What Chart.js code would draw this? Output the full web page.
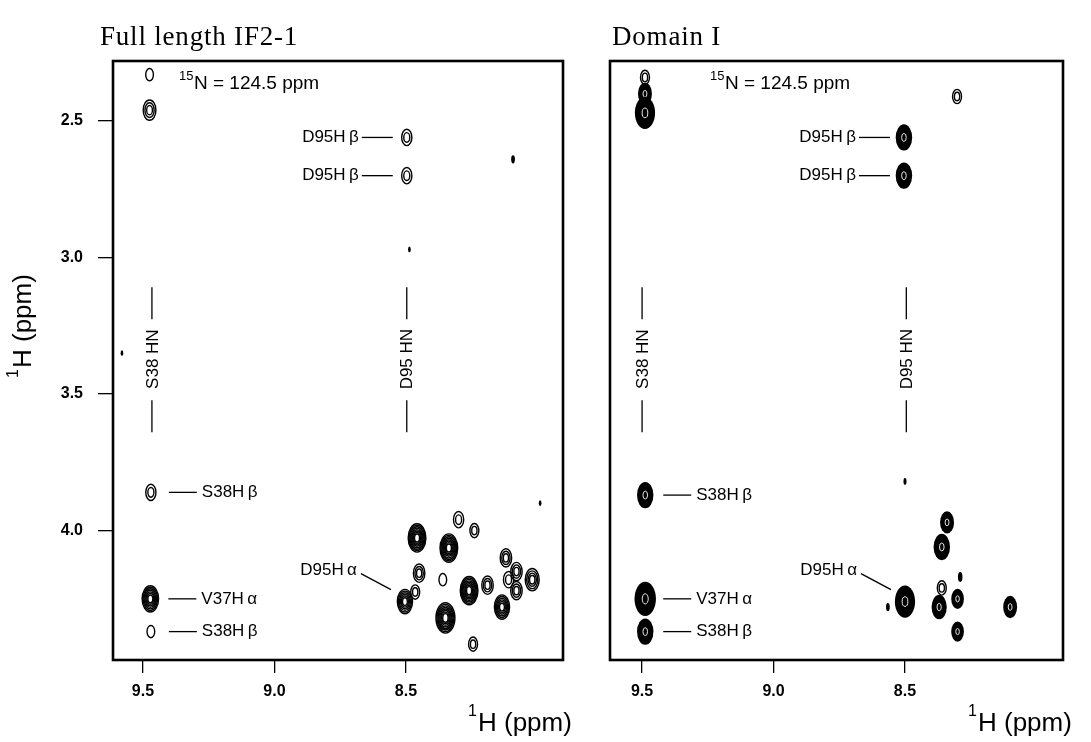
<!DOCTYPE html>
<html>
<head>
<meta charset="utf-8">
<script src="https://cdn.jsdelivr.net/npm/chart.js@4.4.1/dist/chart.umd.min.js"></script>
<style>
  html, body { margin: 0; padding: 0; background: #fff; }
  #wrap { position: relative; width: 1091px; height: 742px; }
  #wrap canvas { position: absolute; top: 0; }
</style>
</head>
<body>
<div id="wrap">
  <canvas id="fullChart" width="590" height="742" style="left:0;width:590px;height:742px"></canvas>
  <canvas id="domChart" width="501" height="742" style="left:590px;width:501px;height:742px"></canvas>
</div>
<script>
// Full length IF2-1 strip at 15N = 124.5 ppm: amide 1H (x), 1H (y), contour levels
const fullX = [9.475, 9.475, 8.497, 8.497, 8.093, 8.487, 9.58, 9.47, 9.472, 9.47, 7.99,
               8.458, 8.337, 8.30, 8.24, 8.45, 8.504, 8.465, 8.36, 8.35, 8.26, 8.19,
               8.135, 8.12, 8.08, 8.11, 8.02, 8.08, 8.245];
const fullY = [2.33, 2.46, 2.56, 2.70, 2.64, 2.97, 3.35, 3.86, 4.25, 4.37, 3.90,
               4.027, 4.064, 3.96, 4.00, 4.156, 4.26, 4.225, 4.18, 4.32, 4.22, 4.20,
               4.28, 4.10, 4.15, 4.18, 4.18, 4.22, 4.416];
const fullLevel = [1, 3, 2, 2, 0.6, 0.3, 0.3, 2, 4.5, 1, 0.3,
                   5, 5, 2, 1.5, 2.5, 4, 1.5, 1, 5.5, 5, 2.5,
                   4, 2.5, 2.5, 2, 3.5, 2.5, 1.5];

// Domain I strip
const domX = [9.489, 9.489, 9.489, 8.302, 8.504, 8.504, 8.50, 9.488, 9.488, 9.488,
              8.34, 8.36, 8.29, 8.36, 8.30, 8.37, 8.30, 8.10, 8.50, 8.565];
const domY = [2.34, 2.40, 2.47, 2.41, 2.56, 2.70, 3.82, 3.87, 4.25, 4.37,
              3.97, 4.06, 4.17, 4.21, 4.25, 4.28, 4.37, 4.28, 4.26, 4.28];
const domLevel = [1.5, 3.5, 6, 1.5, 4.5, 4.5, 0.4, 4.5, 6.5, 4.5,
                  3.5, 4.5, 0.8, 1.5, 3, 4, 3, 3.5, 6, 0.6];

// Assignments
const fullAssign = ['D95Hβ', 'D95Hβ', 'S38Hβ', 'V37Hα', 'S38Hβ', 'D95Hα'];
const fullAssignX = [8.497, 8.497, 9.47, 9.472, 9.47, 8.504];
const fullAssignY = [2.56, 2.70, 3.86, 4.25, 4.37, 4.26];
const domAssign = ['D95Hβ', 'D95Hβ', 'S38Hβ', 'V37Hα', 'S38Hβ', 'D95Hα'];
const domAssignX = [8.504, 8.504, 9.488, 9.488, 9.488, 8.50];
const domAssignY = [2.56, 2.70, 3.87, 4.25, 4.37, 4.26];

// Amide strips
const stripNames = ['S38 HN', 'D95 HN'];
const fullStripX = [9.466, 8.497];
const domStripX = [9.50, 8.495];

const xTicks = [9.5, 9.0, 8.5];
const yTicks = [2.5, 3.0, 3.5, 4.0];

const SANS = '"Liberation Sans", Arial, sans-serif';
const SERIF = '"Liberation Serif", "Times New Roman", serif';

function toPoints(xs, ys, lv) {
  return xs.map((x, i) => ({ x: x, y: ys[i], level: lv[i] }));
}

function drawPeak(ctx, x, y, lvl, filled) {
  ctx.strokeStyle = '#000';
  ctx.fillStyle = '#000';
  if (lvl < 1) {
    const r = 0.8 + 1.8 * lvl;
    ctx.beginPath();
    ctx.ellipse(x, y, r, r * 2.2, 0, 0, Math.PI * 2);
    ctx.fill();
    return;
  }
  const rx = 2.6 + 1.25 * lvl;
  const ry = rx * 1.6;
  if (filled && lvl >= 3) {
    ctx.beginPath();
    ctx.ellipse(x, y, rx, ry, 0, 0, Math.PI * 2);
    ctx.fill();
    ctx.strokeStyle = '#fff';
    ctx.lineWidth = 0.9;
    ctx.beginPath();
    ctx.ellipse(x, y, rx * 0.28, ry * 0.3, 0, 0, Math.PI * 2);
    ctx.stroke();
    return;
  }
  // stacked contour rings, denser for stronger peaks
  const n = Math.max(1, Math.round(lvl * (lvl >= 4 ? 1.5 : 1)));
  ctx.lineWidth = 1.4;
  for (let k = 0; k < n; k++) {
    const s = 1 - (k / n) * 0.82;
    ctx.beginPath();
    ctx.ellipse(x, y, rx * s, ry * s, 0, 0, Math.PI * 2);
    ctx.stroke();
  }
}

// draws the peaks, box, assignments and panel text
function stripPlugin(cfg) {
  return {
    id: 'strip',
    afterDatasetsDraw(chart) {
      const ctx = chart.ctx;
      const a = chart.chartArea;
      const xs = chart.scales.x, ys = chart.scales.y;
      const ds = chart.data.datasets[0];
      const meta = chart.getDatasetMeta(0);

      ctx.save();
      ctx.beginPath();
      ctx.rect(a.left, a.top, a.right - a.left, a.bottom - a.top);
      ctx.clip();
      meta.data.forEach((pt, i) => drawPeak(ctx, pt.x, pt.y, ds.data[i].level, cfg.filled));
      ctx.restore();

      ctx.save();
      // frame
      ctx.strokeStyle = '#000';
      ctx.lineWidth = 2.6;
      ctx.strokeRect(a.left, a.top, a.right - a.left, a.bottom - a.top);

      // assignment labels
      ctx.lineWidth = 1.3;
      ctx.font = '17px ' + SANS;
      ctx.textBaseline = 'middle';
      cfg.assign.forEach((name, i) => {
        const px = xs.getPixelForValue(cfg.assignX[i]);
        const py = ys.getPixelForValue(cfg.assignY[i]);
        const text = name.replace('H', 'H\u2009');
        ctx.beginPath();
        if (name === 'D95Hα') {
          ctx.moveTo(px - 44, py - 28);
          ctx.lineTo(px - 14, py - 12);
          ctx.stroke();
          ctx.textAlign = 'right';
          ctx.fillText(text, px - 48, py - 31);
        } else if (name.startsWith('D95')) {
          ctx.moveTo(px - 45, py);
          ctx.lineTo(px - 14, py);
          ctx.stroke();
          ctx.textAlign = 'right';
          ctx.fillText(text, px - 48, py);
        } else {
          ctx.moveTo(px + 18, py);
          ctx.lineTo(px + 46, py);
          ctx.stroke();
          ctx.textAlign = 'left';
          ctx.fillText(text, px + 51, py);
        }
      });

      // amide strip markers
      const cy = ys.getPixelForValue(3.372);
      cfg.stripX.forEach((v, i) => {
        const px = xs.getPixelForValue(v);
        ctx.beginPath();
        ctx.moveTo(px, cy - 72); ctx.lineTo(px, cy - 40);
        ctx.moveTo(px, cy + 41); ctx.lineTo(px, cy + 73);
        ctx.stroke();
        ctx.save();
        ctx.translate(px, cy);
        ctx.rotate(-Math.PI / 2);
        ctx.textAlign = 'center';
        ctx.fillText(stripNames[i], 0, 1);
        ctx.restore();
      });

      // nitrogen plane
      const nx = a.left + cfg.planeDx;
      ctx.textAlign = 'left';
      ctx.textBaseline = 'alphabetic';
      ctx.font = '13px ' + SANS;
      ctx.fillText('15', nx, 80);
      ctx.font = '19px ' + SANS;
      ctx.fillText('N = 124.5 ppm', nx + 15, 89);

      // panel title
      ctx.font = '27px ' + SERIF;
      ctx.letterSpacing = '0.8px';
      ctx.fillText(cfg.title, cfg.titleX, 45);
      ctx.letterSpacing = '0px';

      // x axis title
      ctx.font = '16px ' + SANS;
      ctx.fillText('1', cfg.xTitleX, 716);
      ctx.font = '26px ' + SANS;
      ctx.fillText('H (ppm)', cfg.xTitleX + 10, 731);

      if (cfg.yTitle) {
        ctx.save();
        ctx.translate(31, 320);
        ctx.rotate(-Math.PI / 2);
        ctx.textAlign = 'left';
        ctx.font = '16px ' + SANS;
        ctx.fillText('1', -58, -13);
        ctx.font = '26px ' + SANS;
        ctx.fillText('H (ppm)', -48, 0);
        ctx.restore();
      }
      ctx.restore();
    }
  };
}

function makeStrip(id, data, cfg) {
  const tickFont = { family: SANS, size: 16, weight: 'bold' };
  return new Chart(document.getElementById(id), {
    type: 'scatter',
    data: {
      datasets: [{ data: data, pointRadius: 0, pointHoverRadius: 0 }]
    },
    options: {
      responsive: false,
      animation: false,
      events: [],
      layout: { padding: { top: 61, right: cfg.padRight, left: 0, bottom: 0 } },
      plugins: { legend: { display: false }, tooltip: { enabled: false } },
      scales: {
        x: {
          type: 'linear',
          reverse: true,
          min: cfg.xMin,
          max: cfg.xMax,
          afterBuildTicks: s => { s.ticks = xTicks.map(v => ({ value: v })); },
          afterFit: s => { s.height = 82; },
          border: { display: false },
          grid: { drawOnChartArea: false, drawTicks: true, tickLength: 13, color: '#000', lineWidth: 1.3 },
          ticks: { color: '#000', font: tickFont, padding: 9, maxRotation: 0, callback: v => v.toFixed(1) }
        },
        y: {
          type: 'linear',
          reverse: true,
          min: 2.28,
          max: 4.474,
          afterBuildTicks: s => { s.ticks = cfg.yAxis ? yTicks.map(v => ({ value: v })) : []; },
          afterFit: s => { s.width = cfg.yWidth; },
          border: { display: false },
          grid: { drawOnChartArea: false, drawTicks: cfg.yAxis, tickLength: 15, color: '#000', lineWidth: 1.3 },
          ticks: { display: cfg.yAxis, color: '#000', font: tickFont, padding: 15, callback: v => v.toFixed(1) }
        }
      }
    },
    plugins: [stripPlugin(cfg)]
  });
}

makeStrip('fullChart', toPoints(fullX, fullY, fullLevel), {
  filled: false,
  xMin: 7.903, xMax: 9.614,
  yWidth: 113, padRight: 27,
  yAxis: true,
  assign: fullAssign, assignX: fullAssignX, assignY: fullAssignY,
  stripX: fullStripX,
  planeDx: 66,
  title: 'Full length IF2-1', titleX: 100,
  xTitleX: 468,
  yTitle: true
});

makeStrip('domChart', toPoints(domX, domY, domLevel), {
  filled: true,
  xMin: 7.899, xMax: 9.622,
  yWidth: 20, padRight: 28,
  yAxis: false,
  assign: domAssign, assignX: domAssignX, assignY: domAssignY,
  stripX: domStripX,
  planeDx: 100,
  title: 'Domain I', titleX: 22,
  xTitleX: 378,
  yTitle: false
});
</script>
</body>
</html>
